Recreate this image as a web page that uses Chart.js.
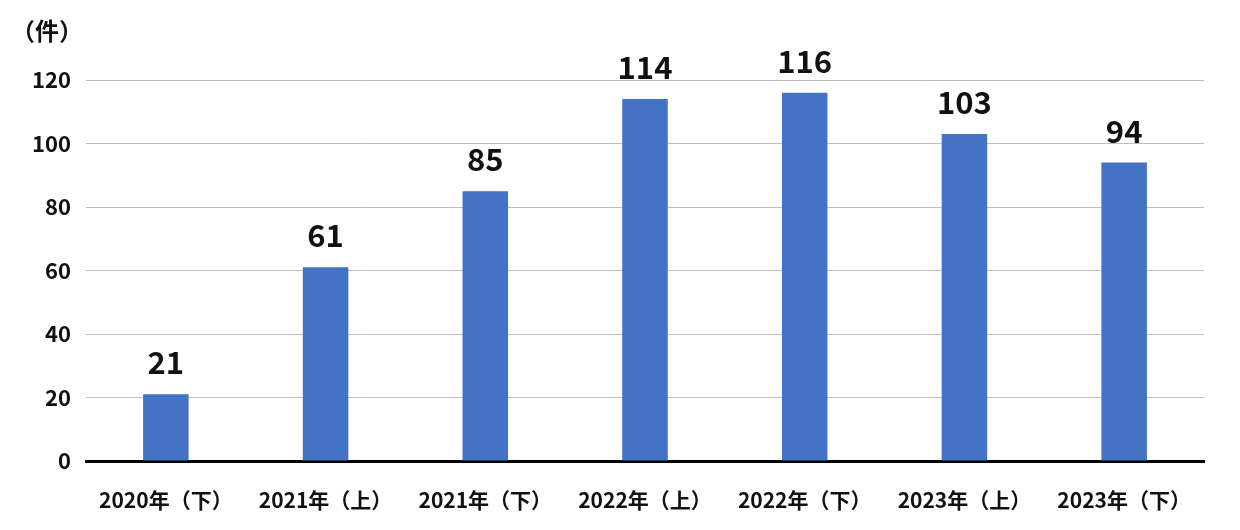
<!DOCTYPE html>
<html>
<head>
<meta charset="utf-8">
<script src="https://cdn.jsdelivr.net/npm/chart.js@4/dist/chart.umd.min.js"></script>
<style>
  html, body { margin: 0; padding: 0; background: #fff; }
  #wrap { width: 1240px; height: 530px; }
</style>
</head>
<body>
<div id="wrap"><canvas id="chart" width="1240" height="530"></canvas></div>
<script>
// data
const periods = ['2020年（下）', '2021年（上）', '2021年（下）', '2022年（上）', '2022年（下）', '2023年（上）', '2023年（下）'];
const counts = [21, 61, 85, 114, 116, 103, 94];
const unitLabel = '（件）';

const FONT = '"Noto Sans CJK JP", "Noto Sans", sans-serif';

// draws the value above each bar + the unit at top left
const valueLabels = {
  id: 'valueLabels',
  afterDatasetsDraw(chart) {
    const ctx = chart.ctx;
    const meta = chart.getDatasetMeta(0);
    ctx.save();
    ctx.fillStyle = '#111';
    ctx.font = 'bold 31px ' + FONT;
    ctx.textAlign = 'center';
    ctx.textBaseline = 'alphabetic';
    meta.data.forEach((bar, i) => {
      ctx.fillText(String(counts[i]), bar.x, bar.y - 20);
    });
    ctx.font = 'bold 24px ' + FONT;
    ctx.textAlign = 'left';
    ctx.textBaseline = 'middle';
    ctx.fillText(unitLabel, 11, 31);
    ctx.restore();
  }
};

new Chart(document.getElementById('chart'), {
  type: 'bar',
  data: {
    labels: periods,
    datasets: [{
      data: counts,
      backgroundColor: '#4472c4',
      barPercentage: 0.57,
      categoryPercentage: 0.5,
    }],
  },
  options: {
    responsive: false,
    animation: false,
    layout: { padding: { top: 80, left: 0, right: 36, bottom: 0 } },
    plugins: {
      legend: { display: false },
      tooltip: { enabled: false },
    },
    scales: {
      x: {
        afterFit(scale) { scale.height = 69; },
        grid: { display: false },
        border: { display: true, color: '#000', width: 3 },
        ticks: {
          color: '#111',
          padding: 18,
          font: { family: FONT, size: 21, weight: 'bold' },
          maxRotation: 0,
          autoSkip: false,
        },
      },
      y: {
        afterFit(scale) { scale.width = 86; },
        min: 0,
        max: 120,
        grid: { color: '#bfbfbf', lineWidth: 1, drawTicks: false },
        border: { display: false },
        ticks: {
          stepSize: 20,
          color: '#111',
          padding: 15,
          font: { family: FONT, size: 22, weight: 'bold' },
        },
      },
    },
  },
  plugins: [valueLabels],
});
</script>
</body>
</html>
